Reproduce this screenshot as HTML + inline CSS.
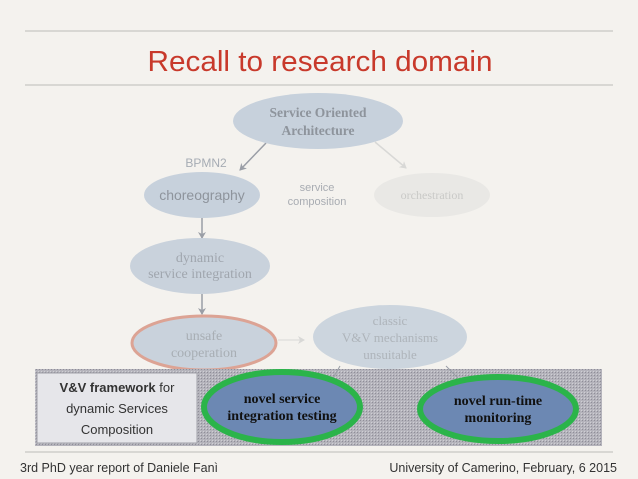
<!DOCTYPE html>
<html><head><meta charset="utf-8"><style>
html,body{margin:0;padding:0;background:#f4f2ee;}
svg{display:block}
</style></head><body>
<svg width="638" height="479" viewBox="0 0 638 479" xmlns="http://www.w3.org/2000/svg">
<defs>
<pattern id="h" width="3" height="3" patternUnits="userSpaceOnUse">
<rect width="3" height="3" fill="#b4b3bb"/><rect width="1" height="1" fill="#8f8e98"/><rect x="2" y="2" width="1" height="1" fill="#cfcfd4"/>
</pattern>
<marker id="a" markerWidth="8" markerHeight="8" refX="6" refY="4" orient="auto" markerUnits="userSpaceOnUse"><path d="M0,0 L7,4 L0,8 L2,4z" fill="#9a9ea6"/></marker>
<marker id="b" markerWidth="8" markerHeight="8" refX="6" refY="4" orient="auto" markerUnits="userSpaceOnUse"><path d="M0,0 L7,4 L0,8 L2,4z" fill="#d8d8d6"/></marker>
</defs>
<rect width="638" height="479" fill="#f4f2ee"/>
<line x1="25" y1="31" x2="613" y2="31" stroke="#bdbcb8" stroke-width="1"/>
<line x1="25" y1="85" x2="613" y2="85" stroke="#bdbcb8" stroke-width="1"/>
<text x="320" y="71" text-anchor="middle" font-family="Liberation Sans, sans-serif" font-size="29" fill="#c8392b" textLength="345" lengthAdjust="spacingAndGlyphs">Recall to research domain</text>

<g font-family="Liberation Serif, serif" text-anchor="middle">
<line x1="266" y1="143" x2="240" y2="170" stroke="#9a9ea6" stroke-width="1.5" marker-end="url(#a)"/>
<line x1="375" y1="142" x2="406" y2="168" stroke="#d8d8d6" stroke-width="1.5" marker-end="url(#b)"/>
<line x1="202" y1="216" x2="202" y2="238" stroke="#9a9ea6" stroke-width="1.5" marker-end="url(#a)"/>
<line x1="202" y1="294" x2="202" y2="314" stroke="#9a9ea6" stroke-width="1.5" marker-end="url(#a)"/>
<line x1="278" y1="340" x2="304" y2="340" stroke="#d8d8d6" stroke-width="1" marker-end="url(#b)"/>

<ellipse cx="318" cy="121" rx="85" ry="28" fill="#c7d1dc"/>
<text x="318" y="117" font-size="13.5" font-weight="bold" fill="#8e949c">Service Oriented</text>
<text x="318" y="135" font-size="13.5" font-weight="bold" fill="#8e949c">Architecture</text>
<text x="206" y="167" font-size="12" fill="#a6acb4" font-family="Liberation Sans, sans-serif">BPMN2</text>
<ellipse cx="202" cy="195" rx="58" ry="23" fill="#c7d1dc"/>
<text x="202" y="200" font-size="14" fill="#8e949c" font-family="Liberation Sans, sans-serif">choreography</text>
<text x="317" y="191" font-size="11" fill="#a8acb2" font-family="Liberation Sans, sans-serif">service</text>
<text x="317" y="205" font-size="11" fill="#a8acb2" font-family="Liberation Sans, sans-serif">composition</text>
<ellipse cx="432" cy="195" rx="58" ry="22" fill="#e9e8e5"/>
<text x="432" y="199" font-size="12" fill="#c9c9c7">orchestration</text>
<ellipse cx="200" cy="266" rx="70" ry="28" fill="#c9d2dc"/>
<text x="200" y="262" font-size="14" fill="#a0a6ae">dynamic</text>
<text x="200" y="278" font-size="14" fill="#a0a6ae">service integration</text>
<ellipse cx="204" cy="343" rx="72" ry="27" fill="#c9d2dc" stroke="#dca394" stroke-width="3"/>
<text x="204" y="340" font-size="14" fill="#a8aeb4">unsafe</text>
<text x="204" y="357" font-size="14" fill="#a8aeb4">cooperation</text>
<ellipse cx="390" cy="337" rx="77" ry="32" fill="#ccd5de"/>
<text x="390" y="325" font-size="13" fill="#aeb4ba">classic</text>
<text x="390" y="342" font-size="13" fill="#aeb4ba">V&amp;V mechanisms</text>
<text x="390" y="359" font-size="13" fill="#aeb4ba">unsuitable</text>

<rect x="35" y="369" width="567" height="77" fill="url(#h)"/>
<line x1="340" y1="366" x2="332" y2="380" stroke="#9a9ea6" stroke-width="1"/>
<line x1="446" y1="366" x2="458" y2="378" stroke="#9a9ea6" stroke-width="1"/>
<rect x="37" y="373" width="160" height="70" fill="#e6e6ea" stroke="#a0a0a8" stroke-width="1"/>
<g font-family="Liberation Sans, sans-serif" font-size="13" fill="#333">
<text x="117" y="392"><tspan font-weight="bold">V&amp;V framework</tspan> for</text>
<text x="117" y="413">dynamic Services</text>
<text x="117" y="434">Composition</text>
</g>
<ellipse cx="282" cy="407" rx="78" ry="35" fill="#6c88b3" stroke="#2bb44a" stroke-width="6"/>
<text x="282" y="403" font-size="14" font-weight="bold" fill="#111">novel service</text>
<text x="282" y="420" font-size="14" font-weight="bold" fill="#111">integration testing</text>
<ellipse cx="498" cy="409" rx="78" ry="32" fill="#6c88b3" stroke="#2bb44a" stroke-width="6"/>
<text x="498" y="405" font-size="14" font-weight="bold" fill="#111">novel run-time</text>
<text x="498" y="422" font-size="14" font-weight="bold" fill="#111">monitoring</text>
</g>
<line x1="25" y1="452" x2="613" y2="452" stroke="#bdbcb8" stroke-width="1"/>
<text x="20" y="472" font-family="Liberation Sans, sans-serif" font-size="12.5" fill="#333">3rd PhD year report of Daniele Fanì</text>
<text x="617" y="472" text-anchor="end" font-family="Liberation Sans, sans-serif" font-size="12.5" fill="#333">University of Camerino, February, 6 2015</text>
</svg>
</body></html>
